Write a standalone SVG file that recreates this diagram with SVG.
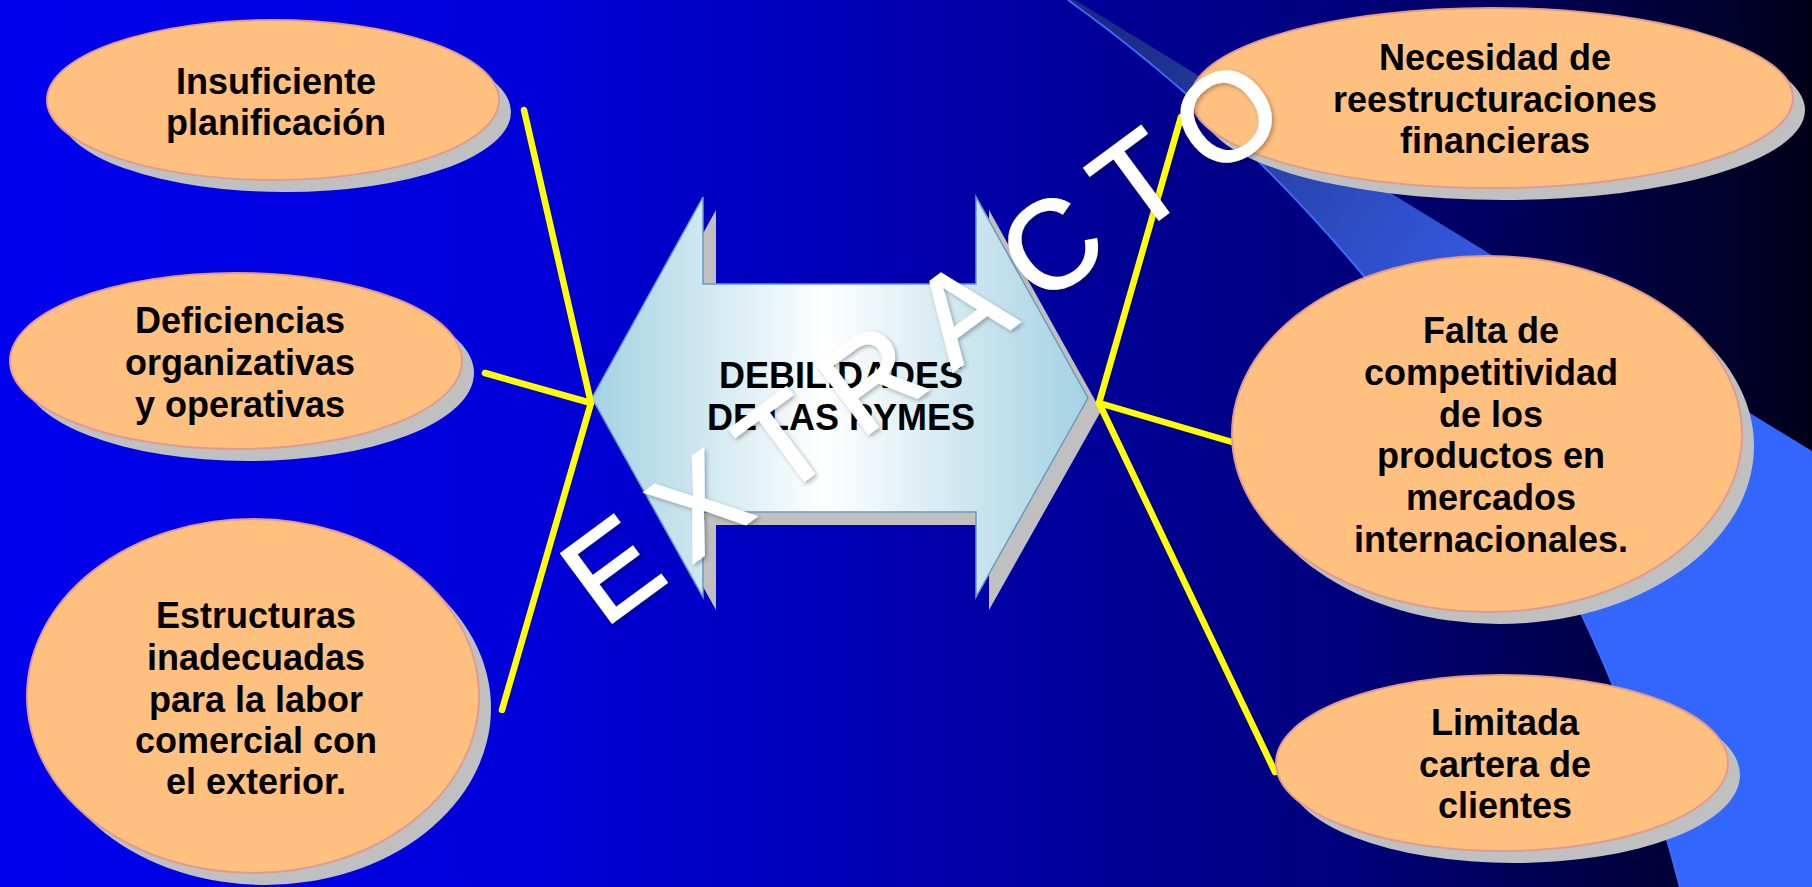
<svg xmlns="http://www.w3.org/2000/svg" width="1812" height="887" viewBox="0 0 1812 887">
  <defs>
    <linearGradient id="bgGrad" x1="0" y1="0" x2="1812" y2="0" gradientUnits="userSpaceOnUse">
      <stop offset="0" stop-color="#0000EE"/>
      <stop offset="0.3" stop-color="#0000D8"/>
      <stop offset="0.5" stop-color="#0000B0"/>
      <stop offset="0.62" stop-color="#000095"/>
      <stop offset="0.75" stop-color="#00007A"/>
      <stop offset="0.86" stop-color="#000050"/>
      <stop offset="1" stop-color="#000018"/>
    </linearGradient>
    <linearGradient id="swooshGrad" x1="1100" y1="40" x2="1700" y2="450" gradientUnits="userSpaceOnUse">
      <stop offset="0" stop-color="#1B2A84"/>
      <stop offset="0.35" stop-color="#2A48B4"/>
      <stop offset="0.6" stop-color="#3358E0"/>
      <stop offset="1" stop-color="#3366FF"/>
    </linearGradient>
    <linearGradient id="arrowGrad" x1="592" y1="0" x2="1088" y2="0" gradientUnits="userSpaceOnUse">
      <stop offset="0" stop-color="#A4D2E2"/>
      <stop offset="0.47" stop-color="#FFFFFF"/>
      <stop offset="1" stop-color="#A4D2E2"/>
    </linearGradient>
    <filter id="wmShadow" x="-10%" y="-10%" width="120%" height="120%">
      <feDropShadow dx="2" dy="2" stdDeviation="2" flood-color="#000000" flood-opacity="0.3"/>
    </filter>
    <style>
      .shadow { fill: #C0C0C0; }
      .body { fill: #FFC080; stroke: #E39A8C; stroke-width: 2; }
      .label { font-family: "Liberation Sans", Arial, sans-serif; font-weight: bold; font-size: 36px; fill: #000000; text-anchor: middle; }
      .conn { stroke: #FFFF00; stroke-width: 6.5; stroke-linecap: round; stroke-linejoin: round; fill: none; }
      .arrow { fill: url(#arrowGrad); stroke: #6A9BC0; stroke-width: 1.5; }
      .mark { font-family: "Liberation Sans", Arial, sans-serif; font-size: 125px; fill: #FFFFFF; stroke: #FFFFFF; stroke-width: 2; letter-spacing: 25px; }
    </style>
  </defs>

  <!-- background -->
  <rect x="0" y="0" width="1812" height="887" fill="url(#bgGrad)"/>
  <path d="M1068,0 C1250,130 1560,420 1680,887 L1812,887 L1812,451 L1075,0 Z" fill="url(#swooshGrad)"/>
  <path d="M1068,0 C1250,130 1560,420 1680,887" fill="none" stroke="#3D6BFF" stroke-width="2"/>

  <!-- central double arrow -->
  <g id="center">
    <path class="shadow" transform="translate(13 13)" d="M592,398 L703,197 L703,284 L976,284 L976,197 L1088,398 L976,597 L976,512 L703,512 L703,597 Z"/>
    <path class="arrow" d="M592,398 L703,197 L703,284 L976,284 L976,197 L1088,398 L976,597 L976,512 L703,512 L703,597 Z"/>
    <text class="label" x="841" y="388">DEBILIDADES</text>
    <text class="label" x="841" y="430">DE LAS PYMES</text>
  </g>

  <!-- connectors -->
  <g id="connectors">
    <path class="conn" d="M524,110 L591,403 L485,373"/>
    <path class="conn" d="M591,403 L502,710"/>
    <path class="conn" d="M1181,117 L1099,403 L1232,442"/>
    <path class="conn" d="M1099,403 L1275,772"/>
  </g>

  <!-- nodes -->
  <g id="node-planificacion">
    <ellipse class="shadow" cx="285" cy="112" rx="226" ry="80"/>
    <ellipse class="body" cx="273" cy="100" rx="226" ry="80"/>
    <text class="label" x="276" y="94">Insuficiente</text>
    <text class="label" x="276" y="135">planificación</text>
  </g>

  <g id="node-deficiencias">
    <ellipse class="shadow" cx="248" cy="373" rx="226" ry="88"/>
    <ellipse class="body" cx="236" cy="361" rx="226" ry="88"/>
    <text class="label" x="240" y="333">Deficiencias</text>
    <text class="label" x="240" y="375">organizativas</text>
    <text class="label" x="240" y="417">y operativas</text>
  </g>

  <g id="node-estructuras">
    <ellipse class="shadow" cx="265" cy="708" rx="226" ry="177"/>
    <ellipse class="body" cx="253" cy="696" rx="226" ry="177"/>
    <text class="label" x="256" y="628">Estructuras</text>
    <text class="label" x="256" y="670">inadecuadas</text>
    <text class="label" x="256" y="712">para la labor</text>
    <text class="label" x="256" y="753">comercial con</text>
    <text class="label" x="256" y="794">el exterior.</text>
  </g>

  <g id="node-reestructuraciones">
    <ellipse class="shadow" cx="1504" cy="110" rx="301" ry="90"/>
    <ellipse class="body" cx="1492" cy="98" rx="301" ry="90"/>
    <text class="label" x="1495" y="70">Necesidad de</text>
    <text class="label" x="1495" y="112">reestructuraciones</text>
    <text class="label" x="1495" y="153">financieras</text>
  </g>

  <g id="node-competitividad">
    <ellipse class="shadow" cx="1499" cy="446" rx="255" ry="178"/>
    <ellipse class="body" cx="1487" cy="434" rx="255" ry="178"/>
    <text class="label" x="1491" y="343">Falta de</text>
    <text class="label" x="1491" y="385">competitividad</text>
    <text class="label" x="1491" y="427">de los</text>
    <text class="label" x="1491" y="468">productos en</text>
    <text class="label" x="1491" y="510">mercados</text>
    <text class="label" x="1491" y="552">internacionales.</text>
  </g>

  <g id="node-clientes">
    <ellipse class="shadow" cx="1514" cy="775" rx="226" ry="88"/>
    <ellipse class="body" cx="1502" cy="763" rx="226" ry="88"/>
    <text class="label" x="1505" y="735">Limitada</text>
    <text class="label" x="1505" y="777">cartera de</text>
    <text class="label" x="1505" y="818">clientes</text>
  </g>

  <!-- diagonal watermark -->
  <g id="watermark" filter="url(#wmShadow)">
    <text class="mark" transform="translate(612 567) rotate(-36.4)" x="-43" y="45">EXTRACTO</text>
  </g>
</svg>
